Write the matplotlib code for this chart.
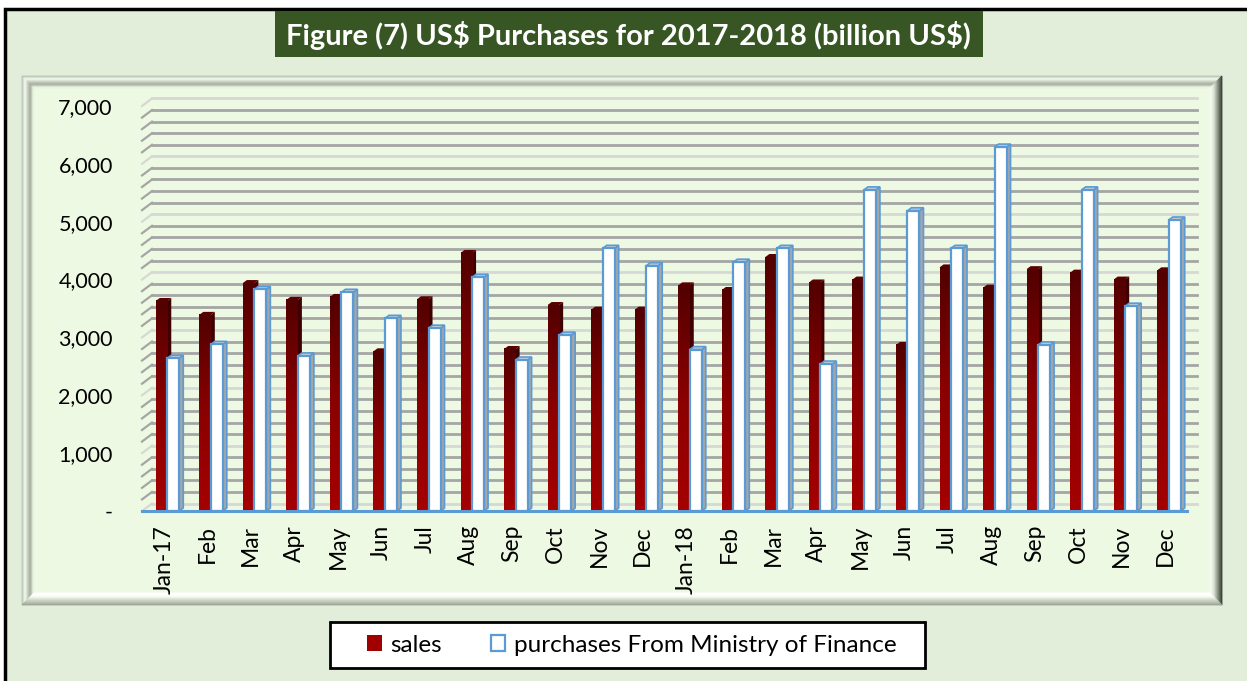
import numpy as np
import matplotlib
matplotlib.use("Agg")
import matplotlib.pyplot as plt
from matplotlib.patches import Rectangle, Polygon
from matplotlib.lines import Line2D
from matplotlib.colors import LinearSegmentedColormap, to_rgb
import matplotlib.transforms as mtransforms

# ---- data (billion US$) ----
months = ["Jan-17", "Feb", "Mar", "Apr", "May", "Jun", "Jul", "Aug", "Sep", "Oct", "Nov", "Dec",
          "Jan-18", "Feb", "Mar", "Apr", "May", "Jun", "Jul", "Aug", "Sep", "Oct", "Nov", "Dec"]
sales = [3630, 3390, 3940, 3650, 3700, 2760, 3660, 4460, 2800, 3560, 3480, 3480,
         3900, 3820, 4390, 3950, 4000, 2870, 4210, 3860, 4180, 4120, 4000, 4160]
purchases = [2640, 2880, 3830, 2680, 3780, 3330, 3160, 4040, 2610, 3040, 4540, 4240,
             2790, 4300, 4540, 2540, 5550, 5190, 4540, 6290, 2870, 5550, 3540, 5030]
y_ticks = [0, 1000, 2000, 3000, 4000, 5000, 6000, 7000]
minor_step = 200

title = r"Figure (7) US\$ Purchases for 2017-2018 (billion US\$)"
series_names = ["sales", "purchases From Ministry of Finance"]

FONT = "Lato"
W, H = 1247, 681
fig = plt.figure(figsize=(W / 100, H / 100), dpi=100)
fig.patch.set_facecolor("white")

# pixel transform (origin top-left)
px = mtransforms.Affine2D().scale(1 / W, -1 / H).translate(0, 1) + fig.transFigure


def fig_patch(p, z=0.1):
    p.set_transform(px)
    p.set_zorder(z)
    fig.add_artist(p)
    return p


def mix(c1, c2, t):
    a, b = np.array(to_rgb(c1)), np.array(to_rgb(c2))
    return tuple(a + (b - a) * t)


# outer background with black border on top/left
fig_patch(Rectangle((5, 9), W + 20, H + 20, facecolor="#E2EEDA", edgecolor="black", lw=2.5), 0.05)

# inner bevelled panel
L, T, R, B = 22, 76, 1222, 605
bev = 12
fig_patch(Rectangle((L, T), R - L, B - T, facecolor="#EEF9E3", edgecolor="none"), 0.1)


def side_colors(stops, n):
    cols = []
    m = len(stops) - 1
    for k in range(n):
        t = k / (n - 1) * m
        i = min(int(t), m - 1)
        cols.append(mix(stops[i], stops[i + 1], t - i))
    return cols


top_c = side_colors(["#B9C2B3", "#F6FCF2", "#C9D1C3", "#A3AC9D", "#E9F3E1"], bev)
left_c = side_colors(["#B9C2B3", "#F6FCF2", "#C9D1C3", "#A3AC9D", "#E9F3E1"], bev)
right_c = side_colors(["#3A4038", "#6E7669", "#A9B1A3", "#DDE6D6", "#F4FBEE"], bev)
bot_c = side_colors(["#9AA394", "#BCC4B6", "#D6DECF", "#F7FCF3", "#FFFFFF"], bev)
for k in range(bev):
    x0, y0, x1, y1 = L + k, T + k, R - k, B - k
    fig_patch(Polygon([(x0, y0), (x1, y0), (x1 - 1, y0 + 1), (x0 + 1, y0 + 1)], closed=True,
                      facecolor=top_c[k], edgecolor=top_c[k], lw=0.6), 0.12)
    fig_patch(Polygon([(x0, y0), (x0 + 1, y0 + 1), (x0 + 1, y1 - 1), (x0, y1)], closed=True,
                      facecolor=left_c[k], edgecolor=left_c[k], lw=0.6), 0.12)
    fig_patch(Polygon([(x1, y0), (x1, y1), (x1 - 1, y1 - 1), (x1 - 1, y0 + 1)], closed=True,
                      facecolor=right_c[k], edgecolor=right_c[k], lw=0.6), 0.13)
    fig_patch(Polygon([(x0, y1), (x1, y1), (x1 - 1, y1 - 1), (x0 + 1, y1 - 1)], closed=True,
                      facecolor=bot_c[k], edgecolor=bot_c[k], lw=0.6), 0.13)

# title banner
fig_patch(Rectangle((275, 11), 708, 46, facecolor="#375623", edgecolor="none"), 0.2)
fig.text(628 / W, 1 - 35 / H, title, color="white", fontsize=21, fontweight="bold",
         family=FONT, ha="center", va="center", zorder=0.3)

# ---- plot area (front plane) ----
ax_l, ax_r, ax_b, ax_t = 142, 1187, 511, 106
ax = fig.add_axes([ax_l / W, 1 - ax_b / H, (ax_r - ax_l) / W, (ax_b - ax_t) / H])
ax.set_zorder(1)
ax.patch.set_visible(False)
n = len(months)
ymax = y_ticks[-1]
ax.set_xlim(0, n)
ax.set_ylim(0, ymax)
for s in ax.spines.values():
    s.set_visible(False)

xpp = n / (ax_r - ax_l)          # data units per pixel (x)
ypp = ymax / (ax_b - ax_t)       # data units per pixel (y)

# back wall gridlines, offset in depth
back = mtransforms.ScaledTranslation(10 / 100, 7.5 / 100, fig.dpi_scale_trans)
for v in np.arange(0, ymax + 1, minor_step):
    major = v % 1000 == 0
    col = "#D6D9D3" if major else "#A5A5A5"
    ax.add_line(Line2D([0, n], [v, v], color=col, lw=2.0, transform=ax.transData + back,
                       clip_on=False, zorder=1))
    ax.add_line(Line2D([0, 10 * xpp], [v, v + 7.5 * ypp], color=col, lw=1.6,
                       clip_on=False, zorder=1))

# bars
x = np.arange(n)
w_s = 11.5 * xpp
w_p = 12.0 * xpp
off_s = 0.5 - 8 * xpp
dx, dy = 4 * xpp, 3 * ypp
sales_bars = ax.bar(x + off_s, sales, width=w_s, align="edge", color="#A00000",
                    edgecolor="none", zorder=3, label=series_names[0])
pur_bars = ax.bar(x + off_s + w_s, purchases, width=w_p, align="edge", color="white",
                  edgecolor="#5B9BD5", lw=1.6, zorder=5, label=series_names[1])

grad = LinearSegmentedColormap.from_list("red3d", ["#A50000", "#8A0000", "#520000"])
g = np.linspace(0, 1, 256).reshape(-1, 1)
for r in sales_bars:
    x0, w, h = r.get_x(), r.get_width(), r.get_height()
    ax.imshow(g, cmap=grad, aspect="auto", origin="lower", extent=[x0, x0 + w, 0, h],
              zorder=3.2, interpolation="bilinear")
    ax.add_patch(Polygon([(x0 + w, 0), (x0 + w, h), (x0 + w + dx, h + dy), (x0 + w + dx, dy)],
                         closed=True, facecolor="#3E0000", edgecolor="none", zorder=2.9))
    ax.add_patch(Polygon([(x0, h), (x0 + w, h), (x0 + w + dx, h + dy), (x0 + dx, h + dy)],
                         closed=True, facecolor="#5A0000", edgecolor="none", zorder=2.9))

for r in pur_bars:
    x0, w, h = r.get_x(), r.get_width(), r.get_height()
    ax.add_patch(Polygon([(x0 + w, 0), (x0 + w, h), (x0 + w + dx, h + dy), (x0 + w + dx, dy)],
                         closed=True, facecolor="#A6A6A6", edgecolor="#5B9BD5", lw=1.2, zorder=4.8))
    ax.add_patch(Polygon([(x0, h), (x0 + w, h), (x0 + w + dx, h + dy), (x0 + dx, h + dy)],
                         closed=True, facecolor="#C3CBD3", edgecolor="#5B9BD5", lw=1.2, zorder=4.8))

ax.set_xlim(0, n)
ax.set_ylim(0, ymax)

# floor front edge
ax.axhline(0, color="#5B9BD5", lw=2.2, zorder=6, clip_on=False)

# ticks
ax.set_yticks(y_ticks)
ax.set_yticklabels(["-" if v == 0 else f"{v:,}" for v in y_ticks], family=FONT, fontsize=15.5)
ax.set_xticks(x + 0.5)
ax.set_xticklabels(months, rotation=90, family=FONT, fontsize=16.5, va="top", ha="center")
ax.tick_params(axis="y", length=0, pad=21)
ax.tick_params(axis="x", length=0, pad=10)

# legend: white box with black frame, entries centred inside
fig_patch(Rectangle((330, 622), 595, 46, facecolor="white", edgecolor="black", lw=2), 1.5)
leg = fig.legend(handles=[sales_bars, pur_bars], labels=series_names,
                 loc="center", bbox_to_anchor=(632 / W, 1 - 645 / H), ncol=2,
                 frameon=False, prop={"family": FONT, "size": 17.5},
                 handlelength=0.6, handleheight=0.6, handletextpad=0.35,
                 columnspacing=2.0, borderpad=0.2, borderaxespad=0)
leg.set_zorder(2)

fig.savefig("out.png", dpi=100)
